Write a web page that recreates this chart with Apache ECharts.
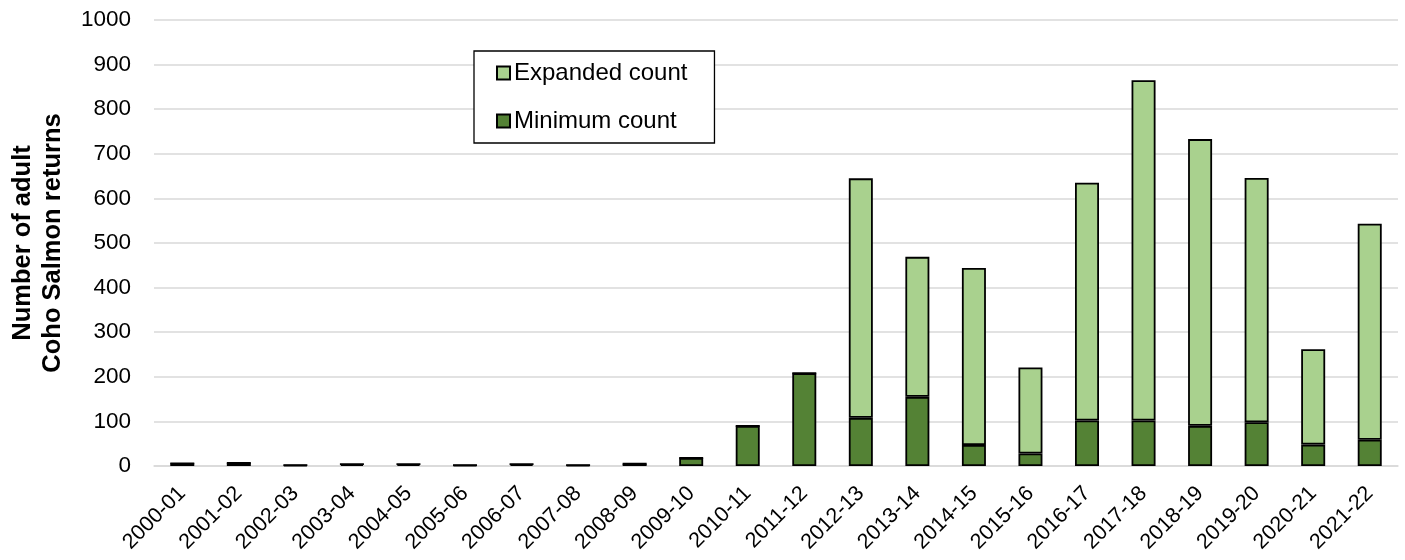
<!DOCTYPE html>
<html><head><meta charset="utf-8">
<script src="https://cdn.jsdelivr.net/npm/echarts@6/dist/echarts.min.js"></script>
<style>html,body{margin:0;padding:0;background:#fff}#c{width:1405px;height:560px}</style>
</head><body><div id="c"></div>
<script>
const categories = ['2000-01','2001-02','2002-03','2003-04','2004-05','2005-06','2006-07','2007-08','2008-09','2009-10','2010-11','2011-12','2012-13','2013-14','2014-15','2015-16','2016-17','2017-18','2018-19','2019-20','2020-21','2021-22'];
const minimumCount = [6,7,2,4,4,2,4,2,5,18,90,208,108,155,47,28,102,102,90,98,48,59];
const totalCount  = [6,7,2,4,4,2,4,2,5,18,90,208,645,469,444,221,635,865,733,646,262,543];
const expandedCount = totalCount.map((t,i)=>Math.max(0,t-minimumCount[i]));
const yTicks = [0,100,200,300,400,500,600,700,800,900,1000];

const chart = echarts.init(document.getElementById('c'));
chart.setOption({
  animation:false,
  textStyle:{fontFamily:'Liberation Sans, Arial, sans-serif'},
  grid:{left:150,right:7,top:20,bottom:94,containLabel:false},
  legend:{
    orient:'vertical', left:474, top:51,
    data:['Expanded count','Minimum count'],
    icon:'rect',
    itemWidth:13,itemHeight:13,itemGap:24,
    padding:[10,27,10,22],
    borderColor:'#000',borderWidth:1.3,backgroundColor:'#fff',
    textStyle:{fontSize:24,color:'#000',padding:[0,0,0,-1]}
  },
  xAxis:{
    type:'category',data:categories,
    axisLine:{show:true,lineStyle:{color:'#d9d9d9',width:1.5}},
    axisTick:{show:false},
    axisLabel:{rotate:45,fontSize:21.5,color:'#000',interval:0,margin:24}
  },
  yAxis:{
    type:'value',min:0,max:1000,interval:100,
    name:'Number of adult\nCoho Salmon returns',nameLocation:'middle',nameGap:86,
    nameTextStyle:{fontSize:25.5,fontWeight:'bold',color:'#000',lineHeight:30},
    axisLine:{show:false},axisTick:{show:false},
    axisLabel:{fontSize:22.5,color:'#000',margin:23,formatter:v=>yTicks.includes(v)?String(v):''},
    splitLine:{lineStyle:{color:'#d9d9d9',width:1.5}}
  },
  series:[
    {name:'Minimum count',type:'bar',stack:'a',data:minimumCount,barWidth:24,
     itemStyle:{color:'#548235',borderColor:'#000',borderWidth:1.8}},
    {name:'Expanded count',type:'bar',stack:'a',data:expandedCount,barWidth:24,
     itemStyle:{color:'#a9d18e',borderColor:'#000',borderWidth:1.8}}
  ]
});
</script></body></html>
